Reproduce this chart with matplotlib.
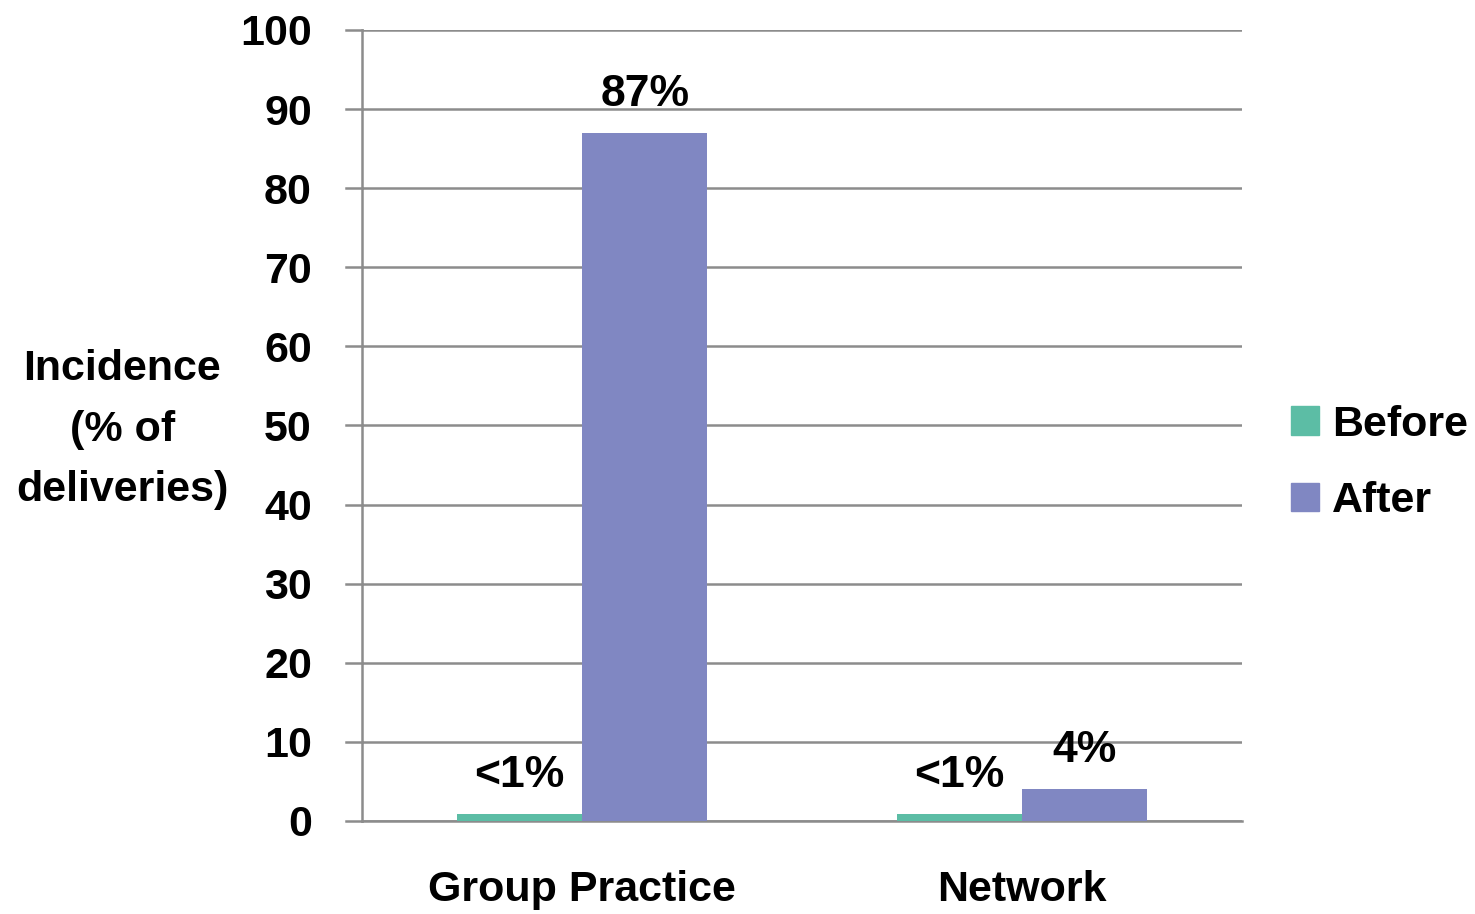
import matplotlib
matplotlib.use("Agg")
import matplotlib.pyplot as plt
import numpy as np
from matplotlib.patches import Patch

categories = ["Group Practice", "Network"]
series_names = ["Before", "After"]
before = [0.9, 0.9]
after = [87, 4]
colors = ["#5CBDA5", "#8087C2"]

plt.rcParams["font.family"] = ["Liberation Sans", "DejaVu Sans"]
plt.rcParams["font.weight"] = "bold"


def fmt(v):
    return "<1%" if v < 1 else f"{v:.0f}%"


fig = plt.figure(figsize=(14.75, 9.14), dpi=100)
ax = fig.add_axes([0.2454, 0.1018, 0.5966, 0.8654])

x = np.arange(len(categories))
w = 0.285
for i, (vals, name) in enumerate(zip([before, after], series_names)):
    pos = x + (i - 0.5) * w
    ax.bar(pos, vals, width=w, color=colors[i], label=name, zorder=3)
    for p, v in zip(pos, vals):
        ax.text(p, v + 2.3, fmt(v), ha="center", va="bottom",
                fontsize=32, fontweight="bold")

ax.set_xlim(-0.5, 1.5)
ax.set_ylim(0, 100)
ax.set_yticks(np.arange(0, 101, 10))
ax.yaxis.grid(True, color="#8C8C8C", linewidth=1.8, zorder=0)
ax.set_axisbelow(True)

for s in ["top", "right"]:
    ax.spines[s].set_visible(False)
ax.spines["left"].set_color("#8C8C8C")
ax.spines["left"].set_linewidth(1.8)
ax.spines["bottom"].set_color("#8C8C8C")
ax.spines["bottom"].set_linewidth(1.8)

ax.tick_params(axis="y", length=0, labelsize=31, pad=36)
ax.tick_params(axis="x", length=0, labelsize=31, pad=35)
ax.set_xticks(x)
ax.set_xticklabels(categories, fontweight="bold")
for t in ax.get_yticklabels():
    t.set_fontweight("bold")
# short gridline stubs to the left of the axis
for yv in ax.get_yticks():
    ax.plot([-0.5 - 16 / 440, -0.5], [yv, yv], color="#8C8C8C",
            linewidth=1.8, clip_on=False, zorder=2)

fig.text(0.083, 0.530, "Incidence\n(% of\ndeliveries)", ha="center",
         va="center", fontsize=31, fontweight="bold", linespacing=1.65)

handles = [Patch(color=c, label=n) for c, n in zip(colors, series_names)]
fig.legend(handles=handles, loc="center left", bbox_to_anchor=(0.8637, 0.4935),
           frameon=False, fontsize=31, handlelength=0.65, handleheight=0.65,
           handletextpad=0.3, labelspacing=0.85, borderaxespad=0)

fig.savefig("out.png", dpi=100)
